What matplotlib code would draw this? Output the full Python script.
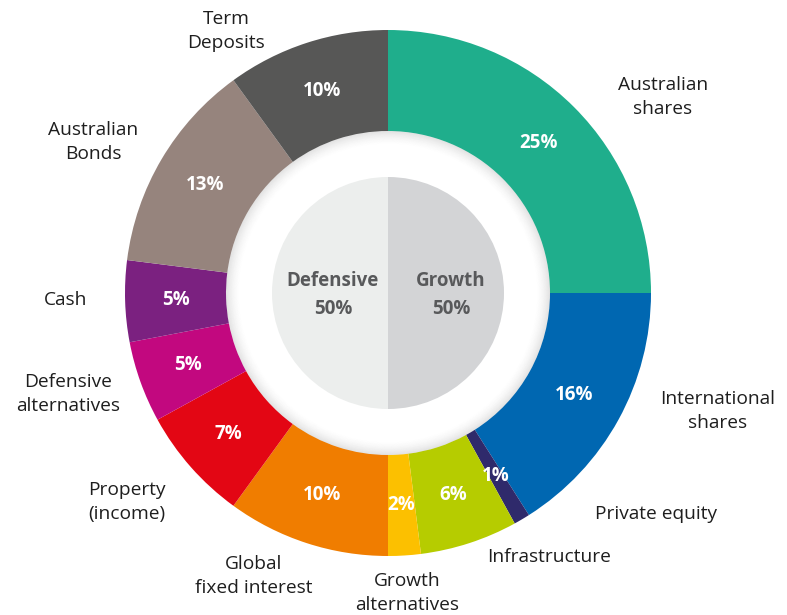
import numpy as np
import matplotlib
matplotlib.use("Agg")
import matplotlib.pyplot as plt
from matplotlib.patches import Wedge

plt.rcParams['font.family'] = ['Open Sans', 'DejaVu Sans']

# asset allocation, clockwise from 12 o'clock
categories = ['Australian\nshares', 'International\nshares', 'Private equity', 'Infrastructure',
              'Growth\nalternatives', 'Global\nfixed interest', 'Property\n(income)',
              'Defensive\nalternatives', 'Cash', 'Australian\nBonds', 'Term\nDeposits']
weights = [25, 16, 1, 6, 2, 10, 7, 5, 5, 13, 10]
colors = ['#1fae8c', '#0067b1', '#2f2a6b', '#b6cc00', '#fcc000', '#f07d00',
          '#e30614', '#c2087f', '#7b2180', '#96847d', '#575756']

groups = ['Defensive', 'Growth']
group_share = [50, 50]

# outer label anchor points (pixel space, y down)
label_pos = [(663, 97), (718, 411), (656, 514), (549, 557), (407, 593), (254, 576),
             (127, 502), (68, 394), (66, 300), (93, 142), (226, 31)]

W, H = 787, 615
cx, cy = 388, H - 293
R_out, R_in, R_core = 263, 162, 116

fig = plt.figure(figsize=(W / 100, H / 100), dpi=100)
ax = fig.add_axes([0, 0, 1, 1])

ax.pie(weights, colors=colors, startangle=90, counterclock=False,
       radius=R_out, center=(cx, cy),
       wedgeprops=dict(width=R_out - R_in, edgecolor='none', linewidth=0))

# soft shadow on the inside of the ring
steps = 14
for i in range(steps):
    a = 0.11 * (1 - i / steps) ** 1.6
    ax.add_patch(Wedge((cx, cy), R_in - i, 0, 360, width=1.0,
                       facecolor='#000000', alpha=a, edgecolor='none'))

# inner split circle
ax.add_patch(Wedge((cx, cy), R_core, 90, 270, facecolor='#eceeed', edgecolor='none'))
ax.add_patch(Wedge((cx, cy), R_core, -90, 90, facecolor='#d3d4d6', edgecolor='none'))

ax.text(cx - 55, cy - 2, f'{groups[0]}\n{group_share[0]}%', ha='center', va='center',
        fontsize=13.5, fontweight='bold', color='#58595b', linespacing=1.5)
ax.text(cx + 63, cy - 2, f'{groups[1]}\n{group_share[1]}%', ha='center', va='center',
        fontsize=13.5, fontweight='bold', color='#58595b', linespacing=1.5)

# percentages in the ring
r_mid = (R_out + R_in) / 2
cum = np.cumsum([0] + weights[:-1])
for w, c0 in zip(weights, cum):
    ang = np.deg2rad(90 - (c0 + w / 2) * 3.6)
    ax.text(cx + r_mid * np.cos(ang), cy + r_mid * np.sin(ang), f'{w}%',
            ha='center', va='center', fontsize=13.5, fontweight='bold', color='white')

for name, (px, py) in zip(categories, label_pos):
    ax.text(px, H - py, name, ha='center', va='center', fontsize=13.8,
            color='#1e1e1e', linespacing=1.45)

ax.set_xlim(0, W)
ax.set_ylim(0, H)
ax.set_aspect('equal')
ax.axis('off')

fig.savefig('out.png', dpi=100, facecolor='white')
